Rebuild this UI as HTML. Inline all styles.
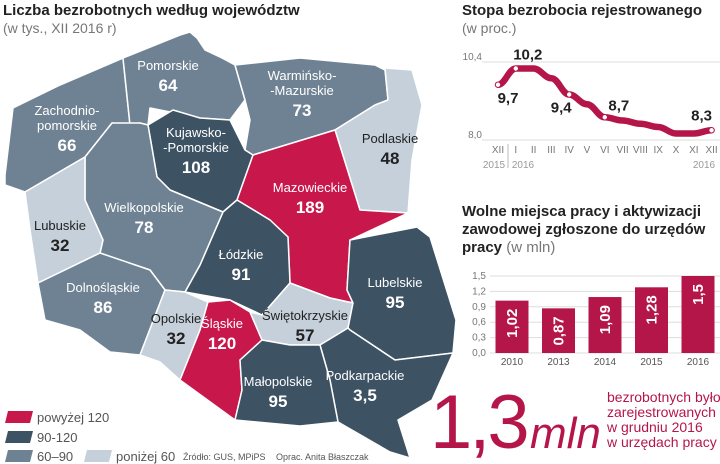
<!DOCTYPE html>
<html><head><meta charset="utf-8">
<style>
body{margin:0;background:#fff;width:720px;height:464px;overflow:hidden;font-family:"Liberation Sans","DejaVu Sans",sans-serif}
svg{position:absolute;left:0;top:0}
</style></head><body>
<svg width="720" height="464" viewBox="0 0 720 464">
<g font-family="Liberation Sans, DejaVu Sans, sans-serif">
<text x="3" y="15" font-size="15" font-weight="bold" fill="#222">Liczba bezrobotnych według województw</text>
<text x="3" y="33" font-size="14" fill="#777">(w tys., XII 2016 r)</text>
<text x="462" y="15" font-size="15" font-weight="bold" fill="#222">Stopa bezrobocia rejestrowanego</text>
<text x="462" y="33" font-size="14" fill="#777">(w proc.)</text>
<text x="462" y="216" font-size="15" font-weight="bold" fill="#222">Wolne miejsca pracy i aktywizacji</text>
<text x="462" y="234" font-size="15" font-weight="bold" fill="#222">zawodowej zgłoszone do urzędów</text>
<text x="462" y="252" font-size="15" fill="#222"><tspan font-weight="bold">pracy</tspan><tspan fill="#777"> (w mln)</tspan></text>
</g>
<g id="map" stroke="#fff" stroke-width="1.5" stroke-linejoin="round"></g>
<g id="maplabels" font-family="Liberation Sans, DejaVu Sans, sans-serif" text-anchor="middle"></g>
<g id="line" font-family="Liberation Sans, DejaVu Sans, sans-serif"></g>
<g id="bars" font-family="Liberation Sans, DejaVu Sans, sans-serif"></g>
<g font-family="Liberation Sans, DejaVu Sans, sans-serif">
<polygon points="8,411 33,411 30,423 5,423" fill="#c8174a"/>
<text x="37" y="422" font-size="13" fill="#555">powyżej 120</text>
<polygon points="8,431 33,431 30,443 5,443" fill="#3d5263"/>
<text x="37" y="442" font-size="13" fill="#555">90-120</text>
<polygon points="8,450 33,450 30,462 5,462" fill="#6f8293"/>
<text x="37" y="461" font-size="13" fill="#555">60–90</text>
<polygon points="87,450 112,450 109,462 84,462" fill="#c5d0da"/>
<text x="116" y="461" font-size="13" fill="#555">poniżej 60</text>
<text x="183" y="460" font-size="9" fill="#555">Źródło: GUS, MPiPS</text>
<text x="276" y="460" font-size="9" fill="#555">Oprac. Anita Błaszczak</text>
</g>
<g font-family="Liberation Sans, DejaVu Sans, sans-serif" fill="#b5164a">
<text x="430" y="448" font-size="76" font-weight="normal" letter-spacing="-3">1,3</text>
<text x="530" y="448" font-size="44" font-style="italic">mln</text>
<text x="607" y="402" font-size="14">bezrobotnych było</text>
<text x="607" y="417" font-size="14">zarejestrowanych</text>
<text x="607" y="432" font-size="14">w grudniu 2016</text>
<text x="607" y="447" font-size="14">w urzędach pracy</text>
</g>
</svg>
<script>
var NS="http://www.w3.org/2000/svg";
function mk(tag,attrs,parent){var e=document.createElementNS(NS,tag);for(var k in attrs)e.setAttribute(k,attrs[k]);parent.appendChild(e);return e;}
var COL={r:"#c8174a",d:"#3d5263",m:"#6f8293",l:"#c5d0da"};
var regionNames=["zachodniopomorskie","pomorskie","warminsko-mazurskie","podlaskie","kujawsko-pomorskie","mazowieckie","lodzkie","wielkopolskie","lubuskie","dolnoslaskie","opolskie","slaskie","swietokrzyskie","lubelskie","podkarpackie","malopolskie"];
var regionValues=["66","64","73","48","108","189","91","78","32","86","32","120","57","95","3,5","95"];
var regionClass=["m","m","m","l","d","r","d","m","l","m","l","r","l","d","d","d"];
var regionLabels=["Zachodnio-|pomorskie","Pomorskie","Warmińsko-|-Mazurskie","Podlaskie","Kujawsko-|-Pomorskie","Mazowieckie","Łódzkie","Wielkopolskie","Lubuskie","Dolnośląskie","Opolskie","Śląskie","Świętokrzyskie","Lubelskie","Podkarpackie","Małopolskie"];
var shapes=[
"5,175 13,108 60,85 123,58 130,125 112,123 85,157 25,192 5,185",
"123,58 180,35 190,32 197,38 205,50 222,58 235,65 245,100 230,120 200,118 150,108 148,125 140,123 130,125",
"235,65 300,58 375,65 385,70 388,100 375,105 335,130 253,155 245,150 250,120 245,100",
"385,68 412,70 422,105 412,160 408,213 360,210 335,130 375,105 388,100",
"148,125 173,110 200,118 230,120 245,150 253,155 237,200 223,212 170,190 157,177",
"253,155 335,130 360,210 408,213 350,240 347,290 353,303 330,298 290,283 288,237 270,220 237,200",
"223,212 237,200 270,220 288,237 290,283 262,315 230,300 185,292 200,265",
"85,157 112,123 140,123 148,125 157,177 170,190 223,212 200,265 185,292 165,290 150,270 100,253 103,240 85,200",
"25,192 85,157 85,200 103,240 100,253 38,283 30,230",
"38,283 100,253 150,270 165,290 140,355 110,352 80,330 45,320",
"165,290 185,292 208,302 200,330 180,380 160,362 140,355",
"208,302 230,300 250,312 262,340 240,360 242,390 235,420 180,380 200,330",
"262,315 290,283 330,298 353,303 348,328 320,345 290,345 262,340 250,312",
"350,240 417,227 430,237 456,320 453,353 395,360 350,330 348,328 353,303 347,290",
"320,345 348,328 350,330 395,360 453,353 432,400 398,420 410,458 390,452 338,422 330,380",
"262,340 290,345 320,345 330,380 338,422 300,426 235,420 242,390 240,360"];
var labelPos=[[67,115],[168,70],[302,80],[390,143],[196,137],[310,192],[241,259],[144,212],[60,230],[103,292],[176,323],[222,328],[305,320],[395,287],[365,380],[278,386]];
var map=document.getElementById("map"),ml=document.getElementById("maplabels");
var outline=mk("polygon",{points:"5,175 13,108 60,85 123,58 190,32 205,50 235,65 300,58 375,65 412,70 422,105 408,213 430,237 456,320 432,400 398,420 410,458 390,452 338,422 300,426 235,420 180,380 140,355 110,352 80,330 45,320 30,230 25,192 5,185",fill:"none",stroke:"#fff","stroke-width":"8"},map);


for(var i=0;i<regionNames.length;i++){
 var p=mk("polygon",{points:shapes[i],fill:COL[regionClass[i]]},map);
 
 
 var lines=regionLabels[i].split("|"),x=labelPos[i][0],y=labelPos[i][1];
 var dark=regionClass[i]=="l";
 var fc=dark?"#222":"#fff";
 for(var j=0;j<lines.length;j++){
  var t=mk("text",{x:x,y:y+j*15,"font-size":"13",fill:fc},ml);t.textContent=lines[j];
  
  
 }
 var v=mk("text",{x:x,y:y+lines.length*15+6,"font-size":"17","font-weight":"bold",fill:fc},ml);v.textContent=regionValues[i];
 
 
}
// line chart
var months=["XII","I","II","III","IV","V","VI","VII","VIII","IX","X","XI","XII"];
var rates=[9.7,10.2,10.2,9.9,9.4,9.1,8.7,8.6,8.5,8.4,8.2,8.2,8.3];
var rateLabels=["9,7","10,2","","","9,4","","8,7","","","","","","8,3"];
var yTicksLine=[10.4,8.0];
var yTickLineLabels=["10,4","8,0"];
var L=document.getElementById("line");
function lx(i){return 498+i*17.8;}
function ly(v){return 62+(10.4-v)/2.4*78;}
for(var k=0;k<yTicksLine.length;k++){
 var gl=mk("line",{x1:482,x2:720,y1:ly(yTicksLine[k]),y2:ly(yTicksLine[k]),stroke:"#ddd","stroke-width":"1"},L);
 
 
 var tl=mk("text",{x:482,y:ly(yTicksLine[k])-2,"font-size":"10",fill:"#777","text-anchor":"end"},L);tl.textContent=yTickLineLabels[k];
 
 
}
var d="";
for(var i=0;i<rates.length;i++){
 var x=lx(i),y=ly(rates[i]);
 if(i==0)d="M"+x+","+y;else{var px=lx(i-1),py=ly(rates[i-1]);d+=" C"+(px+7)+","+py+" "+(x-7)+","+y+" "+x+","+y;}
}
var path=mk("path",{d:d,fill:"none",stroke:"#b5164a","stroke-width":"6.5","stroke-linecap":"round"},L);


var offs=[[10,18],[12,-9],[0,0],[0,0],[-8,18],[0,0],[14,-7],[0,0],[0,0],[0,0],[0,0],[0,0],[-10,-10]];
for(var i=0;i<rates.length;i++){
 var m=mk("text",{x:lx(i),y:153,"font-size":"10",fill:"#777","text-anchor":"middle"},L);m.textContent=months[i];
 
 
 if(rateLabels[i]){
  var c=mk("circle",{cx:lx(i),cy:ly(rates[i]),r:"2.2",fill:"#fff"},L);
  
  
  var lt=mk("text",{x:lx(i)+offs[i][0],y:ly(rates[i])+offs[i][1],"font-size":"15","font-weight":"bold",fill:"#222","text-anchor":"middle"},L);lt.textContent=rateLabels[i];
  
  
 }
}
var y1=mk("text",{x:494,y:168,"font-size":"10",fill:"#999","text-anchor":"middle"},L);y1.textContent="2015";


var y2=mk("text",{x:523,y:168,"font-size":"10",fill:"#999","text-anchor":"middle"},L);y2.textContent="2016";


var y3=mk("text",{x:704,y:168,"font-size":"10",fill:"#999","text-anchor":"middle"},L);y3.textContent="2016";


var sep=mk("line",{x1:508,x2:508,y1:144,y2:168,stroke:"#bbb","stroke-width":"1"},L);


// bar chart
var years=["2010","2013","2014","2015","2016"];
var jobs=[1.02,0.87,1.09,1.28,1.5];
var jobLabels=["1,02","0,87","1,09","1,28","1,5"];
var barTicks=[0,0.3,0.6,0.9,1.2,1.5];
var barTickLabels=["0,0","0,3","0,6","0,9","1,2","1,5"];
var B=document.getElementById("bars");
function by(v){return 353-v/1.5*77;}
function bx(i){return 512+i*46.5;}
for(var k=0;k<barTicks.length;k++){
 var g=mk("line",{x1:490,x2:720,y1:by(barTicks[k]),y2:by(barTicks[k]),stroke:"#ddd","stroke-width":"1"},B);
 
 
 var t=mk("text",{x:486,y:by(barTicks[k])+3,"font-size":"10",fill:"#777","text-anchor":"end"},B);t.textContent=barTickLabels[k];
 
 
}
for(var i=0;i<jobs.length;i++){
 var r=mk("rect",{x:bx(i)-16.5,y:by(jobs[i]),width:33,height:by(0)-by(jobs[i]),fill:"#b5164a"},B);
 
 
 var cx=bx(i),cy=by(jobs[i])+8;
 var vt=mk("text",{x:cx,y:cy,"font-size":"15","font-weight":"bold",fill:"#fff","text-anchor":"end",transform:"rotate(-90 "+cx+" "+cy+")",dy:"5"},B);vt.textContent=jobLabels[i];
 
 
 var xt=mk("text",{x:cx,y:365,"font-size":"10",fill:"#555","text-anchor":"middle"},B);xt.textContent=years[i];
 
 
}
</script>
</body></html>
